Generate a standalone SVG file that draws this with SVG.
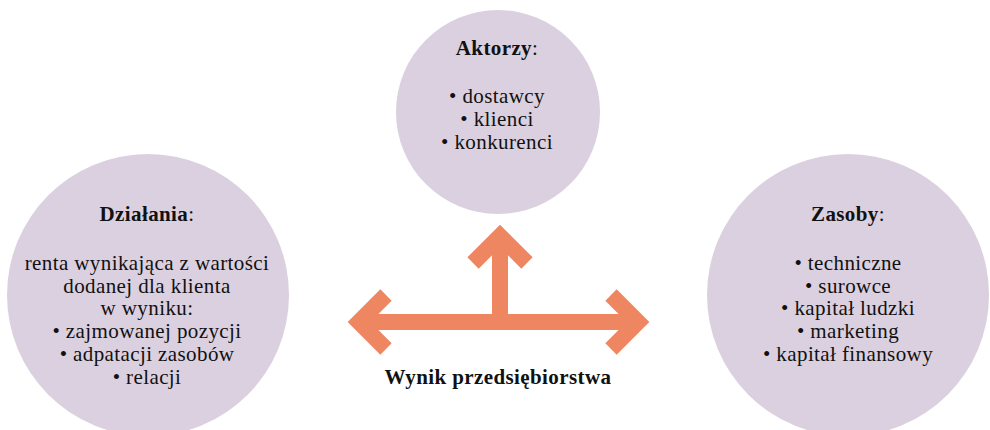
<svg xmlns="http://www.w3.org/2000/svg" width="990" height="430" viewBox="0 0 990 430">
<style>
.circ{fill:#DBD0DF;stroke:none}
text{font-family:"Liberation Serif","Times New Roman",serif;font-size:21px;letter-spacing:0.4px;fill:#111;text-anchor:middle}
.b{font-weight:bold}
.arr{fill:none;stroke:#EE8662;stroke-width:16;stroke-linejoin:miter;stroke-miterlimit:10;stroke-linecap:butt}
</style>
<rect width="990" height="430" fill="#fff"/>
<g id="aktorzy">
<circle class="circ" cx="498" cy="112" r="102"/>
<text x="497" y="55"><tspan class="b">Aktorzy</tspan>:</text>
<text x="497" y="103">• dostawcy</text>
<text x="497" y="126">• klienci</text>
<text x="497" y="149">• konkurenci</text>
</g>
<g id="dzialania">
<circle class="circ" cx="148" cy="295" r="141"/>
<text x="147" y="221"><tspan class="b">Działania</tspan>:</text>
<text x="147" y="270">renta wynikająca z wartości</text>
<text x="147" y="292.7">dodanej dla klienta</text>
<text x="147" y="315.4">w wyniku:</text>
<text x="147" y="338">• zajmowanej pozycji</text>
<text x="147" y="360.8">• adpatacji zasobów</text>
<text x="147" y="384">• relacji</text>
</g>
<g id="zasoby">
<circle class="circ" cx="848" cy="295" r="141"/>
<text x="848" y="221"><tspan class="b">Zasoby</tspan>:</text>
<text x="848" y="270">• techniczne</text>
<text x="848" y="292.7">• surowce</text>
<text x="848" y="315.4">• kapitał ludzki</text>
<text x="848" y="338">• marketing</text>
<text x="848" y="360.8">• kapitał finansowy</text>
</g>
<g id="connectors">
<line class="arr" x1="359" y1="322" x2="638" y2="322"/>
<line class="arr" x1="500" y1="322" x2="500" y2="236"/>
<polyline class="arr" points="386,295 359,322 386,349"/>
<polyline class="arr" points="611,295 638,322 611,349"/>
<polyline class="arr" points="473,263 500,236 527,263"/>
</g>
<g id="wynik">
<text class="b" x="498" y="384">Wynik przedsiębiorstwa</text>
</g>
</svg>
